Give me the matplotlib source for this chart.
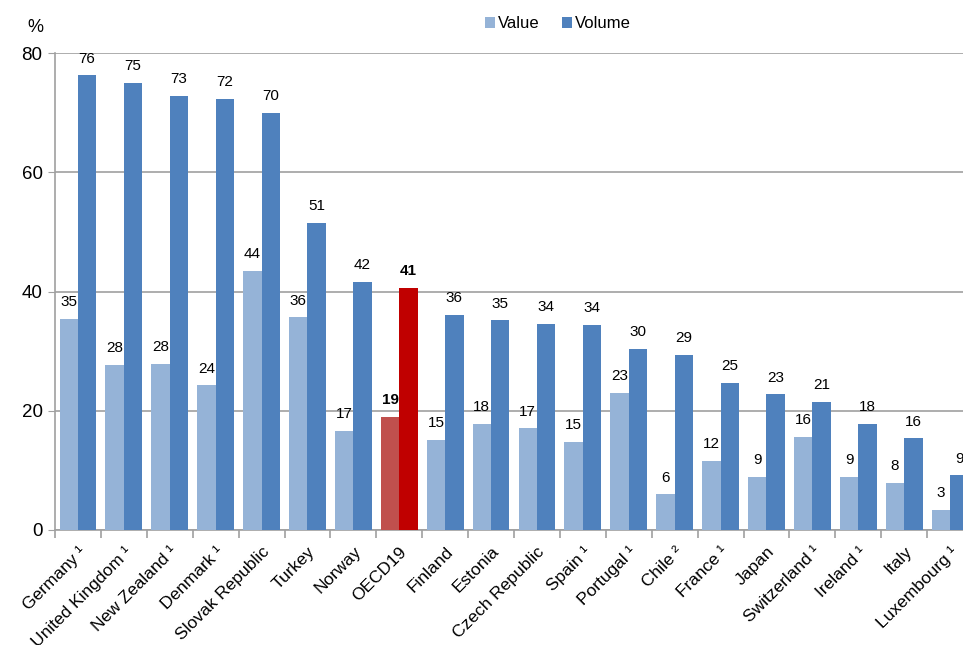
import numpy as np
import matplotlib.pyplot as plt

countries = ['Germany ¹', 'United Kingdom ¹', 'New Zealand ¹', 'Denmark ¹', 'Slovak Republic',
             'Turkey', 'Norway', 'OECD19', 'Finland', 'Estonia', 'Czech Republic', 'Spain ¹',
             'Portugal ¹', 'Chile ²', 'France ¹', 'Japan', 'Switzerland ¹', 'Ireland ¹', 'Italy',
             'Luxembourg ¹']
value = [35.4, 27.7, 27.9, 24.3, 43.5, 35.7, 16.6, 19.0, 15.1, 17.8, 17.1, 14.8,
         23.0, 6.0, 11.6, 8.9, 15.6, 8.9, 7.9, 3.4]
volume = [76.3, 75.0, 72.8, 72.3, 70.0, 51.5, 41.6, 40.6, 36.1, 35.2, 34.6, 34.4,
          30.4, 29.4, 24.7, 22.8, 21.5, 17.8, 15.4, 9.2]
value_lbl = [35, 28, 28, 24, 44, 36, 17, 19, 15, 18, 17, 15, 23, 6, 12, 9, 16, 9, 8, 3]
volume_lbl = [76, 75, 73, 72, 70, 51, 42, 41, 36, 35, 34, 34, 30, 29, 25, 23, 21, 18, 16, 9]

plt.rcParams['font.family'] = ['Liberation Sans', 'DejaVu Sans']

fig = plt.figure(figsize=(9.63, 6.45), dpi=100)
ax = fig.add_axes([55 / 963, 115 / 645, 918 / 963, 477 / 645])

x = np.arange(len(countries))
w = 0.4
c_val = ['#95B3D7'] * len(x)
c_vol = ['#4F81BD'] * len(x)
hl = countries.index('OECD19')
c_val[hl] = '#C0504D'
c_vol[hl] = '#C00000'

ax.bar(x - w / 2, value, w, color=c_val, label='Value', zorder=3)
ax.bar(x + w / 2, volume, w, color=c_vol, label='Volume', zorder=3)

for i in x:
    fw = 'bold' if i == hl else 'normal'
    ax.text(i - w / 2, value[i] + 1.6, str(value_lbl[i]), ha='center', va='bottom',
            fontsize=11, fontweight=fw, color='black', zorder=4)
    ax.text(i + w / 2, volume[i] + 1.6, str(volume_lbl[i]), ha='center', va='bottom',
            fontsize=11, fontweight=fw, color='black', zorder=4)

ax.set_xlim(-0.5, len(x) - 0.5)
ax.set_ylim(0, 80)
ax.set_yticks([0, 20, 40, 60, 80])
ax.tick_params(axis='y', labelsize=13.5, length=5, color='#A0A0A0', pad=4)
ax.yaxis.grid(True, color='#A0A0A0', linewidth=1.2, zorder=0)
ax.set_axisbelow(True)

ax.set_xticks(x)
ax.set_xticklabels(countries, rotation=45, ha='right', rotation_mode='anchor', fontsize=12.5)
ax.tick_params(axis='x', length=0, pad=10)
for lab in ax.get_xticklabels():
    lab.set_x(lab.get_position()[0])
ax.set_xticks(np.arange(-0.5, len(x), 1), minor=True)
ax.tick_params(axis='x', which='minor', length=6, color='#A0A0A0', width=1.2)

for s in ['top', 'right']:
    ax.spines[s].set_visible(False)
for s in ['left', 'bottom']:
    ax.spines[s].set_color('#A0A0A0')
    ax.spines[s].set_linewidth(1.2)

fig.text(35 / 963, 1 - 28 / 645, '%', fontsize=13, ha='center', va='center')
fig.legend(loc='center', bbox_to_anchor=(558 / 963, 1 - 24 / 645), ncol=2, frameon=False,
           fontsize=12, handlelength=0.6, handleheight=0.6, handletextpad=0.2, columnspacing=1.3)

fig.savefig('out.png', dpi=100)
